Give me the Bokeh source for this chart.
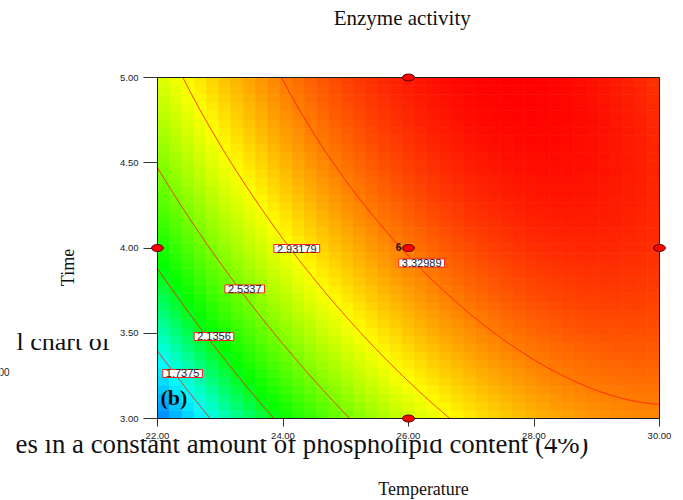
import numpy as np
from bokeh.plotting import figure
from bokeh.models import Label, BoxAnnotation, Range1d, FixedTicker, NumeralTickFormatter, LinearAxis
from bokeh.embed import file_html
from bokeh.resources import INLINE

# ---------------- data ----------------
temperature_ticks = [22.0, 24.0, 26.0, 28.0, 30.0]
time_ticks = [3.0, 3.5, 4.0, 4.5, 5.0]
design_temperature = [22.0, 26.0, 26.0, 26.0, 30.0]
design_time = [4.0, 5.0, 4.0, 3.0, 4.0]
center_replicates = "6"
# fitted quadratic model (coded units A = temperature, B = time)
model_terms = ["Intercept", "A", "B", "AB", "A^2", "B^2"]
model_coefs = [3.35, 0.67, 0.425, -0.297, -0.455, -0.14]
temperature_center, temperature_half_range = 26.0, 4.0
time_center, time_half_range = 4.0, 1.0
contour_levels = [1.7375, 2.1356, 2.5337, 2.93179, 3.32989]
contour_texts = ["1.7375", "2.1356", "2.5337", "2.93179", "3.32989"]
contour_label_temperature = [22.40, 22.90, 23.39, 24.22, 26.21]
contour_label_time = [3.264, 3.481, 3.760, 3.997, 3.912]
title_text = "Enzyme activity"
x_title = "Temperature"
y_title = "Time"
panel_tag = "(b)"
background_texts = ["l chart of", "es in a constant amount of phospholipid content (4%)", "00"]

# ---------------- layout (canvas pixels) ----------------
W, H = 683, 500
FL, FR, FT, FB = 157, 659, 77, 418
X0, X1, Y0, Y1 = 22.0, 30.0, 3.0, 5.0

def px2x(px):
    return X0 + (px - FL) / (FR - FL) * (X1 - X0)

def py2y(py):
    return Y1 - (py - FT) / (FB - FT) * (Y1 - Y0)

def mid(baseline_px, size_px):
    # centre line of a text whose alphabetic baseline sits at baseline_px
    return baseline_px - 0.33 * size_px

def model(T, t):
    b0, b1, b2, b12, b11, b22 = model_coefs
    A = (np.asarray(T) - temperature_center) / temperature_half_range
    B = (np.asarray(t) - time_center) / time_half_range
    return b0 + b1 * A + b2 * B + b12 * A * B + b11 * A ** 2 + b22 * B ** 2

stop_pos = [0.0, 0.15, 0.35, 0.67, 1.0]
stop_rgb = [(0, 120, 255), (0, 255, 255), (0, 255, 0), (255, 255, 0), (255, 0, 0)]

def colour(s):
    r = np.interp(s, stop_pos, [c[0] for c in stop_rgb])
    g = np.interp(s, stop_pos, [c[1] for c in stop_rgb])
    b = np.interp(s, stop_pos, [c[2] for c in stop_rgb])
    return ["#%02x%02x%02x" % (int(round(a)), int(round(bb)), int(round(c))) for a, bb, c in zip(r, g, b)]

p = figure(width=W, height=H, x_range=Range1d(px2x(0), px2x(W)), y_range=Range1d(py2y(H), py2y(0)),
           output_backend="svg", toolbar_location=None, title=None,
           x_axis_location=None, y_axis_location=None,
           min_border_left=0, min_border_right=0, min_border_top=0, min_border_bottom=0)
p.grid.visible = False
p.outline_line_color = None

serif = "Liberation Serif"
sans = "Liberation Sans"

# background page text (behind the chart)
p.add_layout(Label(x=px2x(16), y=py2y(mid(350, 26)), text=background_texts[0], text_font=serif,
                   text_font_size="26px", text_color="#111111", text_baseline="middle", level="image"))
p.add_layout(Label(x=px2x(15), y=py2y(mid(452, 26.8)), text=background_texts[1], text_font=serif,
                   text_font_size="26.8px", text_color="#111111", text_baseline="middle", level="image"))
p.add_layout(Label(x=px2x(-2), y=py2y(371), text=background_texts[2], text_font=sans,
                   text_font_size="10px", text_color="#222222", text_baseline="middle", level="image"))
p.add_layout(BoxAnnotation(left=px2x(25), right=px2x(150), top=py2y(300), bottom=py2y(338.5),
                           fill_color="white", fill_alpha=1, line_alpha=0, level="image"))
p.add_layout(BoxAnnotation(left=px2x(0), right=px2x(W), top=py2y(419), bottom=py2y(438.5),
                           fill_color="white", fill_alpha=1, line_alpha=0, level="image"))

# title and axis titles
p.add_layout(Label(x=px2x(401.7), y=py2y(mid(24, 21)), text=title_text, text_align="center",
                   text_baseline="middle", text_font=serif, text_font_size="21px", text_color="#111111"))
p.add_layout(Label(x=px2x(423), y=py2y(mid(494, 18)), text=x_title, text_align="center",
                   text_baseline="middle", text_font=serif, text_font_size="18px", text_color="#111111"))
p.add_layout(Label(x=px2x(mid(73, 18)), y=py2y(267), text=y_title, text_align="center", angle=np.pi / 2,
                   text_baseline="middle", text_font=serif, text_font_size="18px", text_color="#111111"))

# heat map cells
nx, ny = 41, 41
dx, dy = (X1 - X0) / nx, (Y1 - Y0) / ny
xc = X0 + (np.arange(nx) + 0.5) * dx
yc = Y0 + (np.arange(ny) + 0.5) * dy
XX, YY = np.meshgrid(xc, yc)
ZZ = model(XX, YY)
fx, fy = np.meshgrid(np.linspace(X0, X1, 201), np.linspace(Y0, Y1, 201))
fz = model(fx, fy)
vmin, vmax = fz.min(), fz.max()
cols = colour(((ZZ - vmin) / (vmax - vmin)).ravel())
p.rect(x=XX.ravel(), y=YY.ravel(), width=dx, height=dy, fill_color=cols, line_color=cols, line_width=0.7)

# contour lines
b0, b1, b2, b12, b11, b22 = model_coefs
Aa = np.linspace(-1, 1, 1601)
for L in contour_levels:
    qa = b22
    qb = b2 + b12 * Aa
    qc = b0 + b1 * Aa + b11 * Aa ** 2 - L
    disc = qb ** 2 - 4 * qa * qc
    for sgn in (1.0, -1.0):
        Bb = np.full_like(Aa, np.nan)
        ok = disc >= 0
        Bb[ok] = (-qb[ok] + sgn * np.sqrt(disc[ok])) / (2 * qa)
        Bb[(Bb < -1.001) | (Bb > 1.001)] = np.nan
        if np.all(np.isnan(Bb)):
            continue
        p.line(temperature_center + temperature_half_range * Aa, time_center + time_half_range * Bb,
               line_color="#ff1a00", line_width=1)

# plot frame
p.rect(x=(X0 + X1) / 2, y=(Y0 + Y1) / 2, width=X1 - X0, height=Y1 - Y0,
       fill_alpha=0, line_color="#1a1a1a", line_width=1)

# contour labels
for tx, lx, ly in zip(contour_texts, contour_label_temperature, contour_label_time):
    p.add_layout(Label(x=lx, y=ly, text=tx, text_align="center", text_baseline="middle",
                       text_font=sans, text_font_size="11px", text_color="#222222",
                       background_fill_color="white", border_line_color="#ff2020", border_line_width=1,
                       padding=(3, 0)))

# design points
p.ellipse(x=design_temperature, y=design_time, width=12, height=7, width_units="screen",
          height_units="screen", fill_color="#ff0000", line_color="#4a0000", line_width=1, level="overlay")
p.add_layout(Label(x=px2x(398), y=py2y(246), text=center_replicates, text_align="center",
                   text_baseline="middle", text_font=sans, text_font_size="10px",
                   text_font_style="bold", text_color="#111111"))
p.add_layout(Label(x=px2x(160), y=py2y(mid(404, 22)), text=panel_tag, text_align="left", text_baseline="middle",
                   text_font=serif, text_font_size="22px", text_font_style="bold", text_color="#111111"))

# axes (library axes fixed at the data frame edges)
xax = LinearAxis(fixed_location=Y0, bounds=(X0, X1), ticker=FixedTicker(ticks=temperature_ticks),
                 formatter=NumeralTickFormatter(format="0.00"))
yax = LinearAxis(fixed_location=X0, bounds=(Y0, Y1), ticker=FixedTicker(ticks=time_ticks),
                 formatter=NumeralTickFormatter(format="0.00"))
for ax in (xax, yax):
    ax.minor_tick_line_color = None
    ax.major_tick_in = 0
    ax.axis_line_color = "#1a1a1a"
    ax.major_tick_line_color = "#333333"
    ax.major_label_text_font = sans
    ax.major_label_text_font_size = "9.5px"
    ax.major_label_text_color = "#222222"
xax.major_tick_out = 8
yax.major_tick_out = 14
xax.major_label_standoff = 6
yax.major_label_standoff = 5
p.add_layout(xax, "below")
p.add_layout(yax, "left")

open("out.html", "w").write(file_html(p, INLINE))
